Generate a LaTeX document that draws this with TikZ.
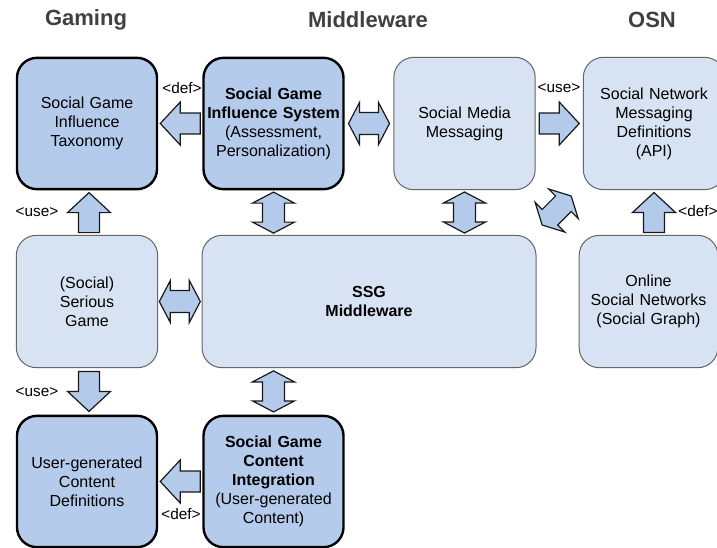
\documentclass[tikz,border=0pt]{standalone}
\usepackage{fontspec}
\setmainfont{Liberation Sans}
\usetikzlibrary{calc}

\definecolor{boxdark}{RGB}{180,203,236}
\definecolor{boxlight}{RGB}{215,227,242}
\definecolor{arrowfill}{RGB}{180,202,235}
\definecolor{headgray}{RGB}{64,64,64}

\tikzset{
  darkbox/.style={draw=black, line width=1.8pt, fill=boxdark, rounded corners=15pt,
    minimum width=105pt, minimum height=98.5pt, text width=104pt, align=center,
    inner sep=0pt, font=\fontsize{12}{14.25}\selectfont},
  lightbox/.style={darkbox, draw=black!60, line width=0.75pt, fill=boxlight,
    minimum width=106pt, minimum height=99.25pt},
  arrowline/.style={draw=black!90, line width=0.9pt, fill=arrowfill, line join=miter},
  header/.style={font=\fontsize{16.5}{19}\selectfont\bfseries, text=headgray},
  tag/.style={font=\fontsize{11.5}{13}\selectfont, inner sep=0.75pt},
  % block arrows, drawn pointing along +x and centred on the pic origin
  pics/sarr/.style={code={
    \draw[arrowline] (-20,-10.5) -- (0,-10.5) -- (0,-21.5) -- (20,0) -- (0,21.5)
      -- (0,10.5) -- (-20,10.5) -- cycle;}},
  pics/darr/.style={code={
    \draw[arrowline] (-20.5,0) -- (-9.5,-21) -- (-9.5,-11) -- (9.5,-11) -- (9.5,-21)
      -- (20.5,0) -- (9.5,21) -- (9.5,11) -- (-9.5,11) -- (-9.5,21) -- cycle;}},
}

\begin{document}
\begin{tikzpicture}[x=0.75pt,y=0.75pt,yscale=-1,xscale=1]
\useasboundingbox (0,0) rectangle (717,547);
\fill[white] (0,0) rectangle (717,547);
\clip (0,0) rectangle (717,547);

% Column headers
\node[header] (hgame) at (86,20) {Gaming};
\node[header] (hmid) at (368,20) {Middleware};
\node[header] (hosn) at (652,20) {OSN};

%Rounded Rect: top row
\node[darkbox] (tax) at (87,123.5) {Social Game\\Influence\\Taxonomy};
\node[darkbox] (infl) at (273.5,123.5) {\textbf{Social Game}\\\textbf{Influence System}\\(Assessment,\\Personalization)};
\node[lightbox] (smm) at (464.5,123.5) {Social Media\\Messaging};
\node[lightbox] (snmd) at (654,123.5) {Social Network\\Messaging\\Definitions\\(API)};

%Rounded Rect: middle row
\node[lightbox] (sg) at (87,301.5) {(Social)\\Serious\\Game};
\node[lightbox, minimum width=250.5pt] (ssg) at (369,301.5) {\textbf{SSG}\\\textbf{Middleware}};
\node[lightbox, minimum width=102pt] (osn) at (648.5,301.5) {Online\\Social Networks\\(Social Graph)};

%Rounded Rect: bottom row
\node[darkbox] (ugc) at (87,481.5) {User-generated\\Content\\Definitions};
\node[darkbox] (sgci) at (273.5,481.5) {\textbf{Social Game}\\\textbf{Content}\\\textbf{Integration}\\(User-generated\\Content)};

%Block arrows (rotate=90 points up)
\pic[rotate=180] at ($(tax.east)!.5!(infl.west)$) {sarr};
\pic at ($(infl.east)!.5!(smm.west)$) {darr};
\pic at ($(smm.east)!.5!(snmd.west)$) {sarr};
\pic[rotate=90] at ($(tax.south)!.5!(sg.north)+(2,0)$) {sarr};
\pic[rotate=90] at ($(infl.south)!.5!(infl.south|-ssg.north)$) {darr};
\pic[rotate=90] at ($(smm.south)!.5!(smm.south|-ssg.north)$) {darr};
\pic[rotate=45] at ($(ssg.north east)!.5!(snmd.south west)+(-3,-2)$) {darr};
\pic[rotate=90] at ($(snmd.south)!.5!(snmd.south|-osn.north)$) {sarr};
\pic at ($(sg.east)!.5!(ssg.west)$) {darr};
\pic[rotate=-90] at ($(sg.south)!.5!(ugc.north)+(2,0)$) {sarr};
\pic[rotate=90] at ($(sgci.north)!.5!(sgci.north|-ssg.south)$) {darr};
\pic[rotate=180] at ($(sgci.west)!.5!(ugc.east)$) {sarr};

% Text Node
\node[tag] (t1) at (182,88) {<def>};
% Text Node
\node[tag] (t2) at (559,88) {<use>};
% Text Node
\node[tag] (t3) at (37,212) {<use>};
% Text Node
\node[tag] (t4) at (698,211) {<def>};
% Text Node
\node[tag] (t5) at (37,392) {<use>};
% Text Node
\node[tag] (t6) at (181,514) {<def>};

\end{tikzpicture}
\end{document}
